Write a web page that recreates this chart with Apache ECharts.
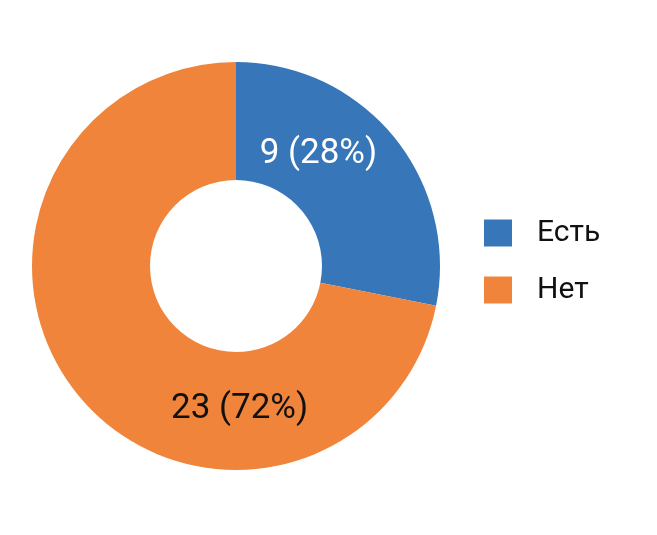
<!DOCTYPE html>
<html><head><meta charset="utf-8">
<script src="https://cdn.jsdelivr.net/npm/echarts@6/dist/echarts.min.js"></script>
<style>html,body{margin:0;padding:0;background:#fff}#c{width:657px;height:535px}</style>
</head><body><div id="c"></div>
<script>
const categories = ['Есть', 'Нет'];
const values = [9, 23];
const colors = ['#3776b9', '#f0843b'];
const labelColors = ['#ffffff', '#111111'];
const labelOffsets = [[-32, -18], [118, 49]];

const total = values.reduce((a, b) => a + b, 0);
const chart = echarts.init(document.getElementById('c'));
chart.setOption({
  animation: false,
  legend: {
    orient: 'vertical', left: 479, top: 213,
    itemWidth: 28, itemHeight: 27, itemGap: 27,
    icon: 'rect',
    data: categories,
    textStyle: { fontFamily: 'Roboto', fontSize: 30, color: '#111', padding: [0, 0, 0, 20] }
  },
  series: [{
    type: 'pie',
    center: [236, 266],
    radius: [86, 204],
    startAngle: 90,
    clockwise: true,
    avoidLabelOverlap: false,
    labelLine: { show: false },
    data: categories.map((c, i) => ({
      name: c, value: values[i],
      itemStyle: { color: colors[i] },
      label: {
        show: true, position: 'inside',
        color: labelColors[i], offset: labelOffsets[i],
        fontFamily: 'Roboto', fontSize: 35,
        formatter: p => p.value + ' (' + Math.round(p.value / total * 100) + '%)'
      }
    }))
  }]
});
</script></body></html>
